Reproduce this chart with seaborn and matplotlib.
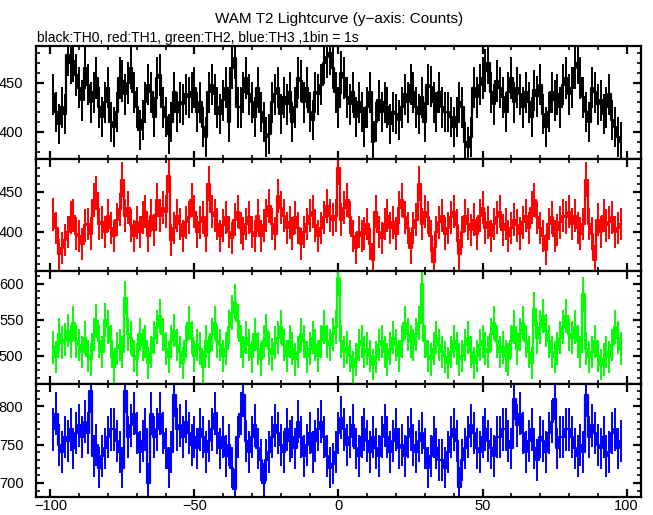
import numpy as np
import pandas as pd
import matplotlib
matplotlib.use("Agg")
import matplotlib.pyplot as plt
from matplotlib.ticker import MultipleLocator
import seaborn as sns

# bin centres, 1 bin = 1 s
time_s = list(range(-99, 99))

th0 = [438, 420, 408, 425, 418, 478, 470, 472, 458, 445, 432, 465, 448, 430, 440, 455, 425, 415,
       430, 445, 410, 405, 420, 455, 452, 438, 450, 465, 440, 425, 402, 412, 430, 448, 440, 415,
       455, 458, 425, 415, 398, 410, 440, 420, 430, 428, 438, 435, 440, 445, 420, 430, 405, 395,
       440, 448, 438, 425, 418, 432, 445, 410, 465, 475, 425, 425, 440, 455, 438, 430, 415, 445,
       420, 410, 395, 398, 430, 438, 445, 418, 435, 428, 440, 410, 425, 455, 452, 430, 445, 420,
       412, 440, 438, 448, 470, 476, 480, 465, 440, 425, 460, 455, 435, 428, 440, 415, 430, 420,
       405, 425, 440, 390, 410, 432, 420, 430, 425, 408, 420, 418, 412, 425, 438, 430, 448, 440,
       425, 418, 435, 410, 448, 446, 430, 420, 440, 425, 420, 420, 415, 405, 415, 430, 425, 390,
       385, 395, 445, 435, 448, 455, 462, 470, 440, 428, 452, 445, 435, 420, 440, 455, 430, 445,
       438, 425, 440, 430, 415, 442, 436, 448, 418, 405, 420, 440, 432, 438, 425, 448, 455, 438,
       445, 465, 470, 455, 435, 420, 410, 445, 440, 428, 432, 418, 425, 438, 412, 405, 395, 390]

th1 = [422, 405, 372, 380, 390, 400, 418, 420, 398, 395, 385, 408, 410, 398, 440, 448, 410, 412,
       400, 420, 405, 395, 415, 428, 465, 420, 430, 408, 395, 412, 400, 418, 425, 395, 420, 402,
       440, 420, 430, 425, 470, 390, 405, 420, 410, 395, 412, 418, 440, 425, 400, 412, 418, 395,
       460, 425, 420, 410, 395, 408, 418, 400, 392, 415, 425, 405, 398, 410, 418, 400, 395, 420,
       395, 408, 420, 432, 410, 398, 445, 430, 420, 405, 412, 398, 418, 405, 385, 400, 410, 420,
       425, 408, 395, 405, 418, 432, 420, 415, 420, 480, 415, 430, 440, 418, 395, 380, 400, 395,
       398, 410, 385, 365, 425, 400, 392, 410, 420, 405, 412, 398, 430, 440, 418, 405, 380, 405,
       415, 460, 410, 425, 418, 395, 362, 400, 412, 420, 398, 405, 418, 425, 408, 372, 400, 420,
       410, 402, 415, 398, 420, 430, 405, 412, 395, 410, 418, 425, 402, 410, 395, 405, 415, 408,
       398, 412, 420, 405, 430, 440, 418, 405, 395, 378, 410, 418, 395, 402, 412, 420, 418, 425,
       410, 420, 405, 398, 410, 465, 410, 398, 365, 415, 400, 420, 408, 412, 418, 400, 405, 410]

th2 = [512, 498, 530, 518, 522, 535, 520, 545, 520, 515, 505, 525, 500, 495, 530, 548, 520, 505,
       550, 540, 520, 485, 510, 515, 505, 580, 530, 525, 500, 495, 530, 515, 520, 490, 505, 525,
       540, 555, 530, 510, 498, 520, 535, 515, 505, 490, 520, 545, 525, 500, 515, 510, 485, 520,
       505, 530, 545, 520, 515, 500, 510, 540, 560, 575, 548, 520, 505, 525, 515, 498, 530, 510,
       495, 520, 535, 510, 502, 518, 525, 540, 515, 500, 520, 510, 495, 505, 530, 520, 498, 510,
       525, 515, 500, 520, 540, 520, 515, 530, 540, 608, 520, 505, 512, 500, 485, 495, 515, 520,
       505, 510, 500, 488, 498, 515, 520, 505, 495, 510, 525, 515, 500, 520, 545, 530, 520, 515,
       530, 545, 600, 520, 500, 495, 510, 525, 515, 505, 498, 490, 505, 520, 510, 495, 500, 515,
       525, 505, 490, 500, 515, 520, 510, 505, 530, 545, 520, 505, 512, 500, 495, 520, 540, 510,
       530, 545, 520, 505, 490, 565, 525, 540, 555, 535, 520, 505, 498, 510, 525, 540, 555, 530,
       525, 540, 520, 505, 585, 510, 498, 505, 520, 500, 488, 495, 505, 498, 515, 540, 525, 510]

th3 = [770, 790, 750, 740, 760, 755, 770, 745, 765, 775, 760, 780, 765, 820, 735, 750, 720, 735,
       745, 760, 770, 770, 755, 740, 720, 820, 760, 775, 790, 765, 740, 755, 770, 700, 790, 760,
       770, 790, 765, 745, 720, 740, 815, 770, 775, 760, 780, 765, 750, 760, 745, 770, 760, 740,
       755, 770, 790, 765, 745, 760, 735, 750, 720, 692, 760, 790, 815, 755, 740, 760, 775, 745,
       730, 700, 730, 740, 760, 775, 765, 750, 740, 770, 755, 760, 745, 780, 760, 735, 750, 765,
       740, 755, 770, 780, 760, 735, 720, 725, 740, 765, 785, 770, 750, 760, 775, 745, 735, 760,
       770, 755, 740, 760, 745, 735, 760, 775, 760, 740, 755, 770, 745, 750, 735, 760, 770, 750,
       740, 755, 765, 745, 720, 735, 760, 745, 730, 730, 720, 740, 760, 770, 755, 695, 730, 745,
       760, 775, 765, 745, 740, 760, 770, 755, 745, 735, 760, 760, 770, 770, 755, 745, 810, 775,
       790, 765, 740, 755, 770, 745, 730, 760, 755, 740, 765, 780, 810, 745, 760, 760, 770, 770,
       760, 745, 735, 750, 740, 815, 760, 775, 765, 750, 745, 760, 735, 740, 765, 770, 745, 755]

series = [th0, th1, th2, th3]
colors = ["#000000", "#ff0000", "#00ff00", "#0000ff"]
ylims = [(373, 487), (351, 491), (461, 617), (682, 829)]

sns.set_style("white")
plt.rcParams["font.family"] = ["Liberation Sans", "DejaVu Sans"]
plt.rcParams["text.color"] = "black"
plt.rcParams["xtick.color"] = "black"
plt.rcParams["ytick.color"] = "black"

fig, axes = plt.subplots(4, 1, figsize=(6.53, 5.15), dpi=100, sharex=True)
fig.subplots_adjust(left=0.0551, right=0.9816, top=0.9107, bottom=0.0355, hspace=0)

for ax, vals, col, yl in zip(axes, series, colors, ylims):
    df = pd.DataFrame({"t": time_s, "c": vals})
    err = np.sqrt(df["c"])
    ax.vlines(df["t"], df["c"] - err, df["c"] + err, color=col, lw=1.4)
    sns.lineplot(data=df, x="t", y="c", ax=ax, color=col, lw=1.6,
                 drawstyle="steps-mid")
    ax.set_xlim(-105, 105)
    ax.set_ylim(*yl)
    ax.set_xlabel("")
    ax.set_ylabel("")
    ax.xaxis.set_major_locator(MultipleLocator(50))
    ax.xaxis.set_minor_locator(MultipleLocator(10))
    ax.yaxis.set_major_locator(MultipleLocator(50))
    ax.yaxis.set_minor_locator(MultipleLocator(10))
    ax.tick_params(which="both", direction="in", top=True, right=True,
                   bottom=True, left=True, labelsize=10.5)
    ax.tick_params(axis="y", pad=9)
    ax.tick_params(axis="x", pad=2)
    ax.tick_params(which="major", length=6, width=1.6)
    ax.tick_params(which="minor", length=3, width=1.2)
    for s in ax.spines.values():
        s.set_linewidth(1.6)
        s.set_color("black")

fig.text(0.52, 1 - 23 / 515, "WAM T2 Lightcurve (y\u2212axis: Counts)", ha="center",
         va="baseline", fontsize=11)
fig.text(0.057, 1 - 42 / 515, "black:TH0, red:TH1, green:TH2, blue:TH3 ,1bin = 1s",
         ha="left", va="baseline", fontsize=10)

fig.savefig("out.png", dpi=100)
